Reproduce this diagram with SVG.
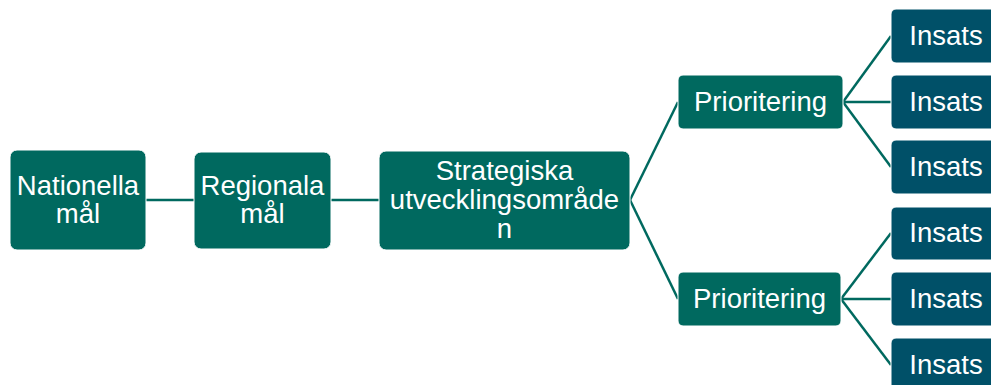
<svg xmlns="http://www.w3.org/2000/svg" width="991" height="385" viewBox="0 0 991 385">
<style>
.g{fill:#00695F;stroke:#ffffff;stroke-width:1}
.b{fill:#005068;stroke:#ffffff;stroke-width:1}
.t{font-family:"Liberation Sans",Arial,sans-serif;font-size:27.5px;fill:#ffffff;text-anchor:middle}
.c{stroke:#00695F;stroke-width:2.5;fill:none}
</style>
<rect width="991" height="385" fill="#ffffff"/>
<g id="connectors">
<line class="c" x1="146" y1="200" x2="194" y2="200"/>
<line class="c" x1="331" y1="200" x2="379" y2="200"/>
<line class="c" x1="630" y1="200" x2="678" y2="102"/>
<line class="c" x1="630" y1="200" x2="678" y2="299"/>
<line class="c" x1="843" y1="102" x2="891" y2="36"/>
<line class="c" x1="843" y1="102" x2="891" y2="102"/>
<line class="c" x1="843" y1="102" x2="891" y2="167"/>
<line class="c" x1="841" y1="299" x2="891" y2="233"/>
<line class="c" x1="841" y1="299" x2="891" y2="299"/>
<line class="c" x1="841" y1="299" x2="891" y2="365"/>
</g>
<g id="n-nationella">
<rect class="g" x="10" y="150" width="136" height="100" rx="7"/>
<text class="t" x="78" y="195">Nationella</text>
<text class="t" x="78" y="223">mål</text>
</g>
<g id="n-regionala">
<rect class="g" x="194" y="152" width="137" height="97" rx="7"/>
<text class="t" x="262.5" y="195">Regionala</text>
<text class="t" x="262.5" y="223">mål</text>
</g>
<g id="n-strategiska">
<rect class="g" x="379" y="151" width="251" height="99" rx="7"/>
<text class="t" x="504.5" y="180">Strategiska</text>
<text class="t" x="504.5" y="209">utvecklingsområde</text>
<text class="t" x="504.5" y="238">n</text>
</g>
<g id="n-prio1">
<rect class="g" x="678" y="75" width="165" height="54" rx="5"/>
<text class="t" x="760.5" y="111">Prioritering</text>
</g>
<g id="n-prio2">
<rect class="g" x="678" y="272" width="163" height="54" rx="5"/>
<text class="t" x="759.5" y="308">Prioritering</text>
</g>
<g id="n-insats1">
<rect class="b" x="891" y="9" width="110" height="54" rx="5"/>
<text class="t" x="946" y="45">Insats</text>
</g>
<g id="n-insats2">
<rect class="b" x="891" y="75" width="110" height="54" rx="5"/>
<text class="t" x="946" y="111">Insats</text>
</g>
<g id="n-insats3">
<rect class="b" x="891" y="140" width="110" height="54" rx="5"/>
<text class="t" x="946" y="176">Insats</text>
</g>
<g id="n-insats4">
<rect class="b" x="891" y="207" width="110" height="53" rx="5"/>
<text class="t" x="946" y="242">Insats</text>
</g>
<g id="n-insats5">
<rect class="b" x="891" y="272" width="110" height="54" rx="5"/>
<text class="t" x="946" y="308">Insats</text>
</g>
<g id="n-insats6">
<rect class="b" x="891" y="338" width="110" height="54" rx="5"/>
<text class="t" x="946" y="374">Insats</text>
</g>
</svg>
